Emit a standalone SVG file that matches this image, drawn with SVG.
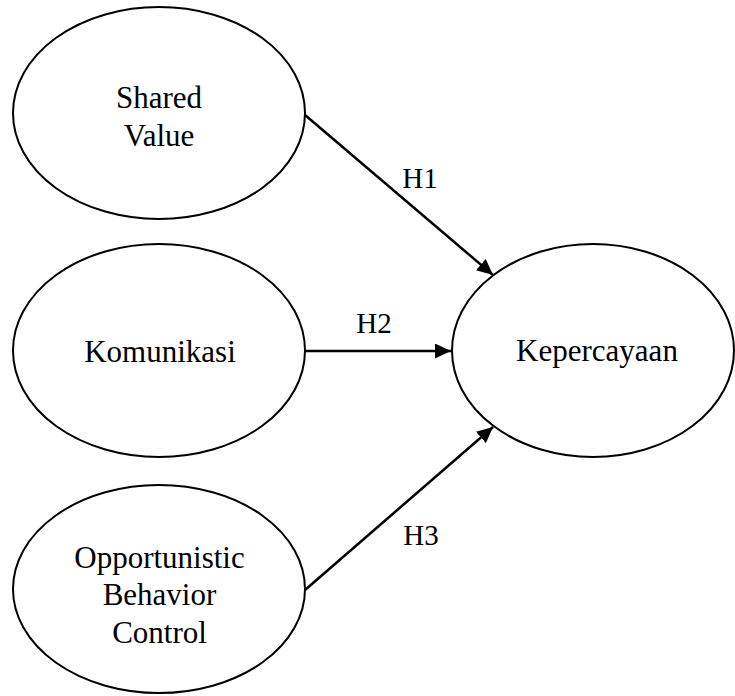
<svg xmlns="http://www.w3.org/2000/svg" width="735" height="696" viewBox="0 0 735 696">
<style>
.node{fill:#fff;stroke:#000;stroke-width:2}
.t{font-family:"Liberation Serif","Times New Roman",serif;font-size:31px;fill:#000;text-anchor:middle}
.lbl{font-family:"Liberation Serif","Times New Roman",serif;font-size:29px;fill:#000;text-anchor:middle}
.edge{stroke:#000;stroke-width:2.5;fill:none;marker-end:url(#arr)}
</style>
<defs>
<marker id="arr" markerUnits="userSpaceOnUse" markerWidth="16" markerHeight="15" viewBox="0 0 16 15" refX="16" refY="7.5" orient="auto">
<path d="M0,0 L16,7.5 L0,15 Z" fill="#000"/>
</marker>
</defs>
<rect width="735" height="696" fill="#fff"/>
<g id="node-shared-value">
<ellipse class="node" cx="159" cy="113" rx="146" ry="106"/>
<text class="t" x="159" y="108">Shared</text>
<text class="t" x="159" y="146">Value</text>
</g>
<g id="node-komunikasi">
<ellipse class="node" cx="159" cy="350.5" rx="146" ry="106.5"/>
<text class="t" x="160" y="362">Komunikasi</text>
</g>
<g id="node-opportunistic">
<ellipse class="node" cx="159" cy="589" rx="146" ry="104"/>
<text class="t" x="159.5" y="568">Opportunistic</text>
<text class="t" x="159.5" y="605">Behavior</text>
<text class="t" x="159.5" y="643">Control</text>
</g>
<g id="node-kepercayaan">
<ellipse class="node" cx="593" cy="350.5" rx="141" ry="106.5"/>
<text class="t" x="597" y="361">Kepercayaan</text>
</g>
<g id="connectors">
<line class="edge" x1="305" y1="115" x2="493" y2="275"/>
<line class="edge" x1="305" y1="351" x2="451" y2="351"/>
<line class="edge" x1="305" y1="590" x2="493" y2="427"/>
<text class="lbl" x="420" y="188">H1</text>
<text class="lbl" x="374" y="333">H2</text>
<text class="lbl" x="421" y="545">H3</text>
</g>
</svg>
